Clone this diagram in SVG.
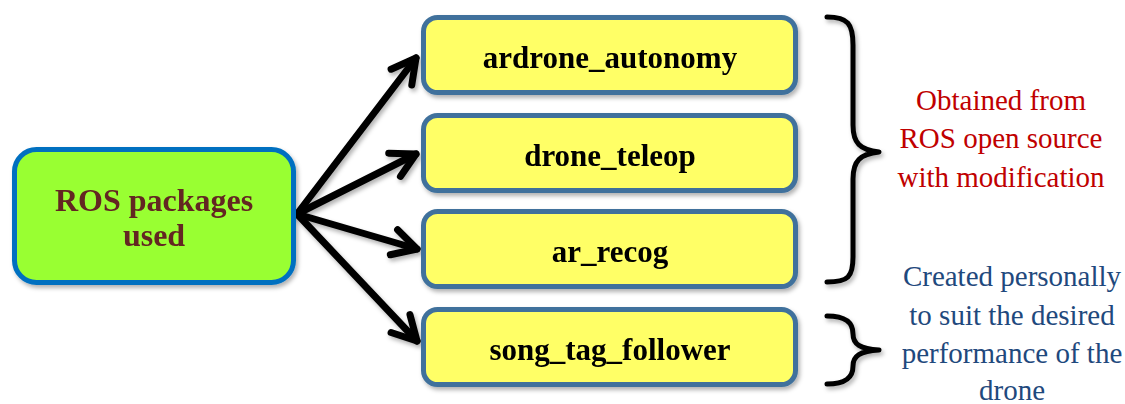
<svg xmlns="http://www.w3.org/2000/svg" width="1125" height="404" viewBox="0 0 1125 404">
  <style>
    .pkg rect { fill: #FFFF66; stroke: #41719C; stroke-width: 5; }
    .pkg text { font-family: 'Liberation Serif', 'DejaVu Serif', serif; font-weight: bold; font-size: 31px; fill: #000; text-anchor: middle; }
    .root rect { fill: #99FF33; stroke: #0070C0; stroke-width: 5; }
    .root text { font-family: 'Liberation Serif', 'DejaVu Serif', serif; font-weight: bold; font-size: 32px; fill: #632523; text-anchor: middle; }
    .conn path { fill: none; stroke: #000; stroke-width: 7; stroke-linecap: round; stroke-linejoin: round; }
    .brace { fill: none; stroke: #000; stroke-width: 5; stroke-linecap: round; stroke-linejoin: round; }
    .note { font-family: 'Liberation Serif', 'DejaVu Serif', serif; font-size: 29px; text-anchor: middle; }
    .red { fill: #C00000; }
    .blue { fill: #1F497D; }
  </style>
  <defs>
    <filter id="shadow" x="-10%" y="-10%" width="130%" height="130%">
      <feDropShadow dx="2" dy="3" stdDeviation="2" flood-color="#000" flood-opacity="0.3"/>
    </filter>
    <marker id="chevron" markerUnits="userSpaceOnUse" viewBox="-30 -20 40 40" markerWidth="40" markerHeight="40" refX="0" refY="0" orient="auto">
      <path d="M -24 -13 L 0 0 L -24 13" fill="none" stroke="#000" stroke-width="7" stroke-linecap="round" stroke-linejoin="round"/>
    </marker>
  </defs>

  <rect width="1125" height="404" fill="#FFFFFF"/>

  <!-- connectors from the root node to each package -->
  <g id="connectors" class="conn" filter="url(#shadow)">
    <path d="M 297 214 L 416 58" marker-end="url(#chevron)"/>
    <path d="M 297 214 L 416 154" marker-end="url(#chevron)"/>
    <path d="M 297 214 L 417 249" marker-end="url(#chevron)"/>
    <path d="M 297 214 L 417 341" marker-end="url(#chevron)"/>
  </g>

  <g id="root" class="root" filter="url(#shadow)">
    <rect x="14.5" y="149.5" width="279" height="133" rx="22"/>
    <text x="154" y="211">ROS packages</text>
    <text x="154" y="246">used</text>
  </g>

  <g id="ardrone_autonomy" class="pkg" filter="url(#shadow)">
    <rect x="423.5" y="17.5" width="372" height="75" rx="14"/>
    <text x="610" y="68">ardrone_autonomy</text>
  </g>

  <g id="drone_teleop" class="pkg" filter="url(#shadow)">
    <rect x="423.5" y="115.5" width="372" height="75" rx="14"/>
    <text x="610" y="166">drone_teleop</text>
  </g>

  <g id="ar_recog" class="pkg" filter="url(#shadow)">
    <rect x="423.5" y="211.5" width="372" height="75" rx="14"/>
    <text x="610" y="262">ar_recog</text>
  </g>

  <g id="song_tag_follower" class="pkg" filter="url(#shadow)">
    <rect x="423.5" y="309.5" width="372" height="75" rx="14"/>
    <text x="610" y="360">song_tag_follower</text>
  </g>

  <!-- brace grouping the three open-source packages -->
  <g id="open_source_note">
    <path class="brace" filter="url(#shadow)" d="M 827 17 C 848 17, 853 24, 853 45 L 853 125 C 853 143, 860 150, 879 152 C 860 154, 853 161, 853 179 L 853 257 C 853 277, 848 282, 827 282"/>
    <text class="note red" x="1001" y="110">Obtained from</text>
    <text class="note red" x="1001" y="148">ROS open source</text>
    <text class="note red" x="1001" y="187">with modification</text>
  </g>

  <!-- brace for the custom package -->
  <g id="custom_note">
    <path class="brace" filter="url(#shadow)" d="M 827 316 C 845 316, 853 322, 853 334 C 853 344, 860 349, 879 350 C 860 351, 853 356, 853 366 C 853 378, 845 384, 827 384"/>
    <text class="note blue" x="1012" y="286">Created personally</text>
    <text class="note blue" x="1012" y="325">to suit the desired</text>
    <text class="note blue" x="1012" y="363">performance of the</text>
    <text class="note blue" x="1012" y="400">drone</text>
  </g>
</svg>
